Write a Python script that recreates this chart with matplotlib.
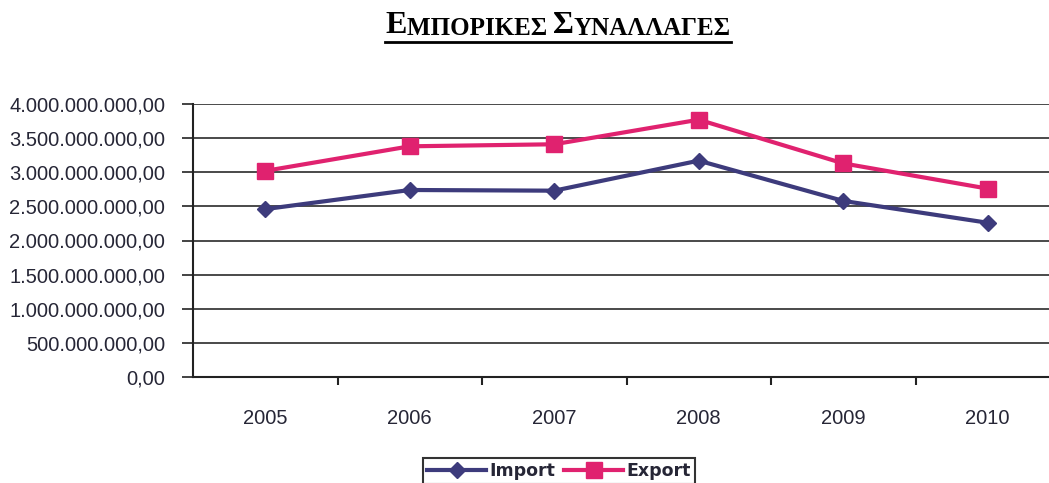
import matplotlib
matplotlib.use('Agg')
import matplotlib.pyplot as plt
from matplotlib.ticker import FuncFormatter, MultipleLocator
from matplotlib.lines import Line2D

years = ['2005', '2006', '2007', '2008', '2009', '2010']
imports = [2.46e9, 2.74e9, 2.73e9, 3.17e9, 2.58e9, 2.26e9]
exports = [3.02e9, 3.38e9, 3.41e9, 3.77e9, 3.13e9, 2.76e9]

import_color = '#3d3b7c'
export_color = '#e0226f'
text_color = '#262636'

plt.rcParams['font.family'] = ['Liberation Sans', 'DejaVu Sans']

fig = plt.figure(figsize=(10.49, 4.83), dpi=100)
ax = fig.add_axes([193 / 1049, 1 - 377 / 483, (6 * 144.5) / 1049, (377 - 104) / 483])

x = list(range(len(years)))
ax.plot(x, imports, color=import_color, lw=3, marker='D', markersize=8, label='Import', zorder=3)
ax.plot(x, exports, color=export_color, lw=3, marker='s', markersize=11, label='Export', zorder=3)

ax.set_xlim(-0.5, len(years) - 0.5)
ax.set_ylim(0, 4e9)
ax.yaxis.set_major_locator(MultipleLocator(5e8))

def greek_fmt(v, pos):
    s = f'{v:,.2f}'
    return s.replace(',', 'X').replace('.', ',').replace('X', '.')

ax.yaxis.set_major_formatter(FuncFormatter(greek_fmt))
ax.set_xticks(x)
ax.set_xticklabels(years)
ax.set_xticks([i + 0.5 for i in x[:-1]], minor=True)
ax.tick_params(axis='x', which='major', length=0, pad=23, labelsize=14.5, labelcolor=text_color)
ax.tick_params(axis='x', which='minor', length=6, width=1.5, direction='out', color='#222222')
ax.tick_params(axis='y', length=8, width=1.2, direction='out', pad=12, labelsize=14.5,
               labelcolor=text_color, color='#222222')

ax.grid(axis='y', color='#2b2b2b', lw=1.2, zorder=1)
for side in ['top', 'right']:
    ax.spines[side].set_visible(False)
ax.spines['left'].set_linewidth(1.5)
ax.spines['bottom'].set_linewidth(1.5)
ax.spines['left'].set_color('#222222')
ax.spines['bottom'].set_color('#222222')

leg = fig.legend(loc='upper center', bbox_to_anchor=(559 / 1049, 1 - 449 / 483), ncol=2,
                 frameon=True, fancybox=False, edgecolor='black', handlelength=3.4,
                 columnspacing=0.5, handletextpad=0.2, borderpad=0.25,
                 prop={'family': 'Liberation Sans Narrow', 'weight': 'bold', 'size': 12.5})
leg.get_frame().set_linewidth(1.5)
for t in leg.get_texts():
    t.set_color(text_color)

# title in small caps, pieces chained one after another
tfont = dict(family='Liberation Serif', weight='bold', color='black')
y_base = 1 - 40 / 483
pieces = [('Ε', 23), ('ΜΠΟΡΙΚΕΣ ', 18), ('Σ', 23), ('ΥΝΑΛΛΑΓΕΣ', 18)]
first = fig.text(0.365, y_base, pieces[0][0], fontsize=pieces[0][1], va='bottom', ha='left', **tfont)
parts = [first]
for txt, sz in pieces[1:]:
    p = ax.annotate(txt, xy=(1, 0), xycoords=parts[-1], va='bottom', ha='left',
                    fontsize=sz, annotation_clip=False, **tfont)
    parts.append(p)

fig.canvas.draw()
r = fig.canvas.get_renderer()
left = parts[0].get_window_extent(r).x0
right = parts[-1].get_window_extent(r).x1
w = right - left
x0 = (558 - w / 2) / 1049
first.set_x(x0)
fig.add_artist(Line2D([x0, x0 + w / 1049], [1 - 42 / 483, 1 - 42 / 483], color='black', lw=2,
                      transform=fig.transFigure))

fig.savefig('out.png', dpi=100)
